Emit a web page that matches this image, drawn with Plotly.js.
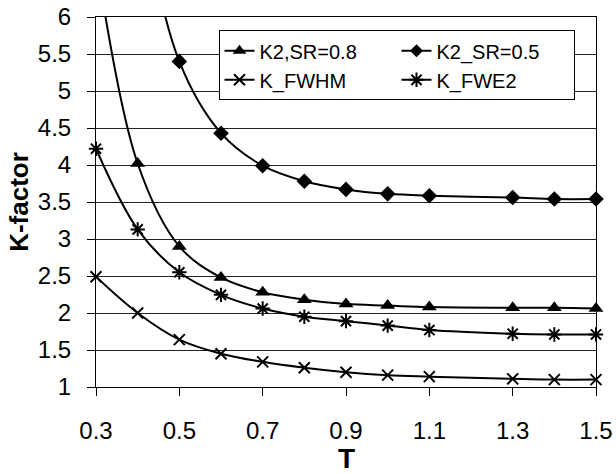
<!DOCTYPE html>
<html>
<head>
<meta charset="utf-8">
<script src="https://cdn.plot.ly/plotly-3.0.1.min.js"></script>
<style>html,body{margin:0;padding:0;background:#fff;}#chart{width:616px;height:474px;}</style>
</head>
<body>
<div id="chart"></div>
<script>
// Data
const T = [0.3, 0.4, 0.5, 0.6, 0.7, 0.8, 0.9, 1.0, 1.1, 1.3, 1.4, 1.5];
const K2_SR08 = [6.8, 4.02, 2.90, 2.48, 2.28, 2.18, 2.12, 2.10, 2.08, 2.07, 2.07, 2.06];
const K2_SR05 = [11.0, 7.8, 5.40, 4.43, 3.99, 3.78, 3.67, 3.61, 3.585, 3.56, 3.54, 3.54];
const K_FWHM = [2.49, 2.00, 1.64, 1.45, 1.34, 1.26, 1.20, 1.16, 1.14, 1.11, 1.10, 1.10];
const K_FWE2 = [4.22, 3.13, 2.55, 2.245, 2.06, 1.95, 1.89, 1.83, 1.77, 1.72, 1.71, 1.71];
const seriesNames = ['K2,SR=0.8', 'K2_SR=0.5', 'K_FWHM', 'K_FWE2'];
const xTickVals = [0.3, 0.5, 0.7, 0.9, 1.1, 1.3, 1.5];
const xTickText = ['0.3', '0.5', '0.7', '0.9', '1.1', '1.3', '1.5'];
const yTickVals = [1, 1.5, 2, 2.5, 3, 3.5, 4, 4.5, 5, 5.5, 6];
const yTickText = ['1', '1.5', '2', '2.5', '3', '3.5', '4', '4.5', '5', '5.5', '6'];
const xTitle = 'T';
const yTitle = 'K-factor';

const YMAX = 6;
function sizes(vals, s) { return vals.map(v => v <= YMAX ? s : 0); }

const FONT = 'Liberation Sans, Arial, sans-serif';
const series = [
  {name: seriesNames[0], y: K2_SR08, symbol: 'triangle-up', size: 13, lw: 0},
  {name: seriesNames[1], y: K2_SR05, symbol: 'diamond', size: 12, lw: 0},
  {name: seriesNames[2], y: K_FWHM, symbol: 'x-thin-open', size: 11, lw: 2},
  {name: seriesNames[3], y: K_FWE2, symbol: 'asterisk-open', size: 12, lw: 2}
];

const traces = series.map(s => ({
  type: 'scatter',
  mode: 'lines+markers',
  x: T,
  y: s.y,
  name: s.name,
  cliponaxis: false,
  line: {color: '#000', width: 2, shape: 'spline', smoothing: 1},
  marker: {symbol: s.symbol, size: sizes(s.y, s.size), color: '#000', opacity: 1,
           line: {color: '#000', width: s.lw}}
}));

const layout = {
  width: 616, height: 474,
  margin: {l: 96, r: 20, t: 17, b: 87},
  paper_bgcolor: '#fff', plot_bgcolor: '#fff',
  font: {family: FONT, color: '#000', size: 24},
  showlegend: true,
  legend: {
    orientation: 'h',
    x: 0.245, y: 0.964, xanchor: 'left', yanchor: 'top',
    bgcolor: '#fff', bordercolor: '#000', borderwidth: 1,
    font: {family: FONT, size: 20, color: '#000'},
    entrywidth: 132,
    tracegroupgap: 0
  },
  annotations: [{
    text: '<b>' + xTitle + '</b>', xref: 'paper', yref: 'paper',
    x: 0.5, y: -0.1935, xanchor: 'center', yanchor: 'middle',
    showarrow: false, font: {family: FONT, size: 28, color: '#000'}
  }],
  xaxis: {
    range: [0.3, 1.5],
    automargin: false,
    tickmode: 'array', tickvals: xTickVals, ticktext: xTickText,
    ticks: 'outside', ticklen: 8, tickwidth: 1, tickcolor: '#000',
    ticklabelstandoff: 14,
    showline: true, linecolor: '#000', linewidth: 1, mirror: true,
    showgrid: false, zeroline: false,
    tickfont: {family: FONT, size: 24, color: '#000'}
  },
  yaxis: {
    range: [1, 6],
    automargin: false,
    tickmode: 'array', tickvals: yTickVals, ticktext: yTickText,
    ticks: 'outside', ticklen: 8, tickwidth: 1, tickcolor: '#000',
    ticklabelstandoff: 11,
    showline: true, linecolor: '#000', linewidth: 1, mirror: true,
    showgrid: true, gridcolor: '#222', gridwidth: 1, zeroline: false,
    tickfont: {family: FONT, size: 24, color: '#000'},
    title: {text: '<b>' + yTitle + '</b>', font: {family: FONT, size: 26, color: '#000'}, standoff: 1}
  }
};

Plotly.newPlot('chart', traces, layout, {displayModeBar: false, staticPlot: true});
</script>
</body>
</html>
